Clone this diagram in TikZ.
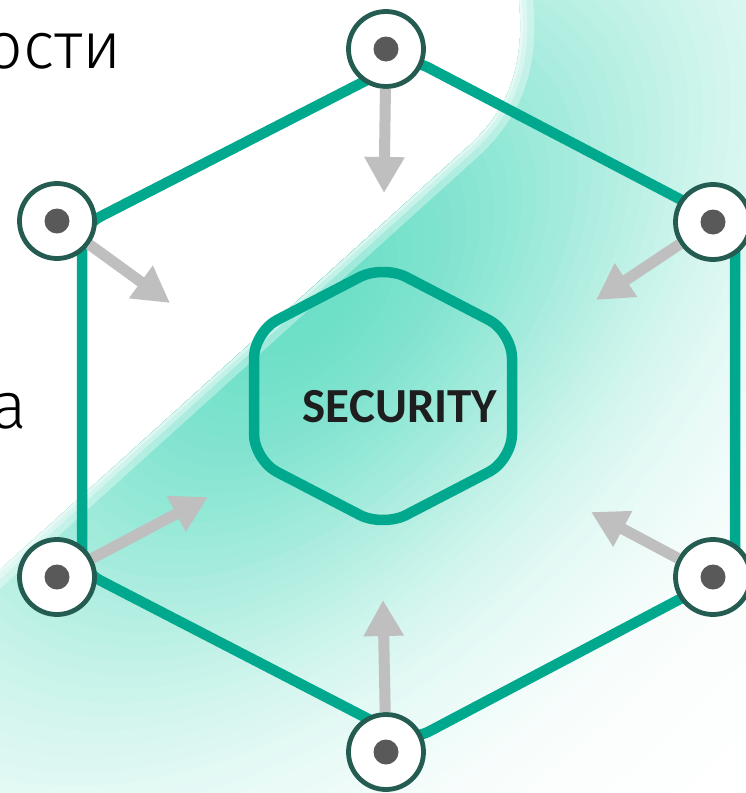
\documentclass[tikz,border=0pt]{standalone}
\usepackage{fontspec}
\usetikzlibrary{arrows.meta}
\newfontfamily\secfont{Carlito}
\newfontfamily\cyrfont{Fira Sans Light}
\definecolor{hexc}{RGB}{0,168,142}
\definecolor{ringc}{RGB}{36,92,82}
\definecolor{dotc}{RGB}{89,89,89}
\definecolor{arrc}{RGB}{191,191,191}
\definecolor{bgt}{RGB}{108,223,199}
\definecolor{txtc}{RGB}{30,30,30}
\tikzset{
  hexline/.style={draw=hexc, line width=10.5pt, line join=round},
  ring/.style={circle, draw=ringc, line width=4.8pt, fill=white, minimum size=75pt, inner sep=0pt},
  arr/.style={draw=arrc, line width=11pt, -{Triangle[length=36pt,width=38pt]}},
  softedge/.style={white, line width=#1}
}
\begin{document}
\begin{tikzpicture}[x=1pt,y=-1pt]
\useasboundingbox (0,0) rectangle (746,793);
\fill[white] (0,0) rectangle (746,793);
% background band
\begin{scope}
  \clip (-20,588) -- (470,145) .. controls (505,112) and (528,70) .. (518,-10) -- (760,-10) -- (760,810) -- (-20,810) -- cycle;
  \foreach \k in {70,69,...,1}{
    \pgfmathsetmacro\s{\k*0.035}
    \pgfmathtruncatemacro\pc{100*exp(-(\s*\s))}
    \pgfmathsetmacro\ra{\s*480}
    \pgfmathsetmacro\rb{\s*290}
    \fill[bgt!\pc!white, rotate around={45:(300,300)}] (300,300) ellipse [x radius=\ra pt, y radius=\rb pt];
  }
  \draw[softedge=28pt, opacity=.35] (-20,588) -- (470,145) .. controls (505,112) and (528,70) .. (518,-10);
  \draw[softedge=14pt, opacity=.35] (-20,588) -- (470,145) .. controls (505,112) and (528,70) .. (518,-10);
  \draw[softedge=5pt, opacity=.4] (-20,588) -- (470,145) .. controls (505,112) and (528,70) .. (518,-10);
\end{scope}
% hexagons
\draw[hexline, rounded corners=20pt] (410,58) -- (735,228) -- (735,570) -- (411,741) -- (82,571) -- (82,226) -- cycle;
\draw[hexline, rounded corners=26pt] (383,265) -- (512,332) -- (512,460) -- (383,527) -- (254,460) -- (254,332) -- cycle;
\node[font=\secfont\bfseries\fontsize{49}{52}\selectfont, text=txtc, anchor=base, inner sep=0pt] (sec) at (400,422) {SECURITY};
% circles
\node[ring] (c1) at (386,49) {};
\node[ring] (c2) at (57,221) {};
\node[ring] (c3) at (713,222) {};
\node[ring] (c4) at (57,577) {};
\node[ring] (c5) at (713,577) {};
\node[ring] (c6) at (386,752) {};
\foreach \c in {c1,c2,c3,c4,c5,c6}{\fill[dotc] (\c.center) circle (12.5pt);}
% arrow tips
\coordinate (t1) at (384,193);
\coordinate (t2) at (170,303);
\coordinate (t3) at (596,300);
\coordinate (t4) at (208,497);
\coordinate (t5) at (591,512);
\coordinate (t6) at (383,600);
\draw[arr] (c1) -- (t1);
\draw[arr] (c2) -- (t2);
\draw[arr] (c3) -- (t3);
\draw[arr] (c4) -- (t4);
\draw[arr] (c5) -- (t5);
\draw[arr] (c6) -- (t6);
% cut text
\node[font=\cyrfont\fontsize{66}{70}\selectfont, anchor=base east, inner sep=0pt] (txo) at (122,68) {ости};
\node[font=\cyrfont\fontsize{66}{70}\selectfont, anchor=base east, inner sep=0pt] (txa) at (27,428) {а};
\end{tikzpicture}
\end{document}
